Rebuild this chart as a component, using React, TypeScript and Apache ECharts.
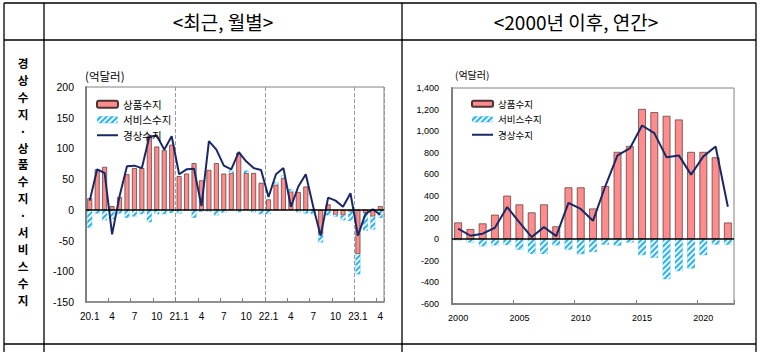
import React, { useEffect, useRef } from 'react';
import * as echarts from 'echarts';

// ---- monthly (억달러) ----
const monthLabels = [
  '20.1', '2', '3', '4', '5', '6', '7', '8', '9', '10', '11', '12',
  '21.1', '2', '3', '4', '5', '6', '7', '8', '9', '10', '11', '12',
  '22.1', '2', '3', '4', '5', '6', '7', '8', '9', '10', '11', '12',
  '23.1', '2', '3', '4',
];
const monthGoods = [
  19, 66, 70, 6, 21, 58, 68, 68, 121, 103, 97, 106,
  55, 59, 76, 48, 65, 76, 59, 60, 93, 60, 60, 44,
  17, 41, 52, 30, 29, 38, 1, -40, 9, -8, -9, -3,
  -72, -5, -11, 6,
];
const monthServices = [
  -29, -6, -17, -15, -6, -13, -11, -7, -20, -7, -7, -5,
  -6, -2, -13, -3, -3, -9, -5, 4, -4, 4, -4, -7,
  -7, 4, 4, 4, -4, -6, -7, -13, -9, -3, -8, -15,
  -33, -29, -21, -13,
];
const monthCurrent = [
  15, 66, 60, -40, 22, 71, 72, 68, 119, 121, 98, 120,
  58, 66, 67, 6, 112, 98, 72, 66, 94, 79, 68, 65,
  21, 58, 68, 5, 38, 58, 5, -42, 20, 15, 5, 27,
  -42, -7, 1, -8,
];

// ---- annual (억달러) ----
const years = [
  '2000', '2001', '2002', '2003', '2004', '2005', '2006', '2007', '2008', '2009', '2010', '2011',
  '2012', '2013', '2014', '2015', '2016', '2017', '2018', '2019', '2020', '2021', '2022',
];
const yearGoods = [
  155, 94, 146, 227, 403, 322, 248, 322, 119, 480, 480, 284,
  491, 808, 863, 1206, 1176, 1142, 1108, 808, 808, 758, 154,
];
const yearServices = [
  -10, -30, -66, -57, -54, -97, -137, -137, -57, -97, -139, -119,
  -51, -60, -31, -148, -172, -370, -296, -271, -148, -51, -51,
];
const yearCurrent = [
  97, 32, 51, 106, 298, 155, 20, 112, 28, 336, 280, 170,
  490, 776, 840, 1053, 982, 758, 776, 598, 767, 859, 300,
];

const legendNames = ['상품수지', '서비스수지', '경상수지'];
const sideTitle = ['경', '상', '수', '지', '·', '상', '품', '수', '지', '·', '서', '비', '스', '수', '지'];

const KR = "'Noto Sans CJK KR', 'Noto Sans', sans-serif";
const NUM = "'Liberation Sans', Arial, sans-serif";
const GOODS = '#ff8c8c';
const GOODS_BORDER = '#4d3333';
const SERV = '#2db3e6';
const LINE = '#1b2866';
const AXIS = '#808080';

const hatch = {
  symbol: 'rect',
  symbolSize: 1,
  color: 'rgba(255,255,255,0.9)',
  dashArrayX: [1, 0],
  dashArrayY: [2, 2],
  rotation: -Math.PI / 4,
};

const zeroLine = {
  silent: true,
  symbol: ['none', 'none'],
  label: { show: false },
  lineStyle: { color: '#000', width: 1.5, type: 'solid' },
  data: [{ yAxis: 0 }],
};

const legendData = [
  { name: legendNames[0] },
  { name: legendNames[1] },
  { name: legendNames[2], icon: 'path://M0,0 L21,0 L21,2 L0,2 Z' },
];

export default function App() {
  const ref = useRef<HTMLDivElement>(null);
  useEffect(() => {
    if (!ref.current) return;
    const chart = echarts.init(ref.current, null, { renderer: 'svg' });
    const border = (x1: number, y1: number, x2: number, y2: number) => ({
      type: 'line',
      shape: { x1, y1, x2, y2 },
      style: { stroke: '#000', lineWidth: 1.3 },
      silent: true,
    });
    const side = sideTitle.map((ch, i) => ({
      type: 'text',
      x: 23,
      y: 63 + i * 16.9,
      style: {
        text: ch,
        fontFamily: KR,
        fontSize: 11.6,
        fontWeight: 'bold',
        fill: '#000',
        align: 'center',
        verticalAlign: 'middle',
      },
    }));
    const option: any = {
      animation: false,
      backgroundColor: '#fff',
      grid: [
        { left: 86, top: 87, width: 298, height: 215, show: true, borderColor: AXIS, borderWidth: 1 },
        { left: 452, top: 88, width: 282, height: 216, show: true, borderColor: AXIS, borderWidth: 1 },
      ],
      legend: [
        {
          data: legendData,
          orient: 'vertical',
          left: 91,
          top: 94,
          itemWidth: 21,
          itemHeight: 7,
          itemGap: 5,
          textStyle: { fontFamily: KR, fontSize: 10.5, color: '#000' },
          selectedMode: false,
        },
        {
          data: legendData,
          orient: 'vertical',
          left: 466,
          top: 94,
          itemWidth: 21,
          itemHeight: 6,
          itemGap: 6,
          textStyle: { fontFamily: KR, fontSize: 9.5, color: '#000' },
          selectedMode: false,
        },
      ],
      xAxis: [
        {
          type: 'category',
          gridIndex: 0,
          data: monthLabels,
          boundaryGap: true,
          axisLine: { onZero: false, lineStyle: { color: AXIS, width: 1.5 } },
          axisTick: { show: true, interval: 2, inside: true, length: 4, lineStyle: { color: AXIS } },
          axisLabel: { interval: 2, fontFamily: NUM, fontSize: 10, color: '#000', margin: 9 },
          splitLine: {
            show: true,
            interval: (i: number) => i > 0 && i % 12 === 0,
            lineStyle: { type: 'dashed', color: '#9a9a9a', width: 1 },
          },
        },
        {
          type: 'category',
          gridIndex: 1,
          data: years,
          boundaryGap: true,
          axisLine: { onZero: false, lineStyle: { color: AXIS, width: 2 } },
          axisTick: { show: true, interval: 4, inside: true, length: 4, lineStyle: { color: AXIS } },
          axisLabel: { interval: 4, fontFamily: NUM, fontSize: 9, color: '#000', margin: 9 },
          splitLine: { show: false },
        },
      ],
      yAxis: [
        {
          type: 'value',
          gridIndex: 0,
          min: -150,
          max: 200,
          interval: 50,
          axisLine: { show: true, lineStyle: { color: AXIS, width: 2 } },
          axisTick: { show: false },
          splitLine: { show: false },
          axisLabel: { fontFamily: NUM, fontSize: 10.5, color: '#000', margin: 12 },
        },
        {
          type: 'value',
          gridIndex: 1,
          min: -600,
          max: 1400,
          interval: 200,
          axisLine: { show: true, lineStyle: { color: AXIS, width: 2 } },
          axisTick: { show: false },
          splitLine: { show: false },
          axisLabel: {
            fontFamily: NUM,
            fontSize: 9,
            color: '#000',
            margin: 13,
            formatter: (v: number) => v.toLocaleString('en-US'),
          },
        },
      ],
      series: [
        {
          name: legendNames[0],
          type: 'bar',
          xAxisIndex: 0,
          yAxisIndex: 0,
          stack: 'm',
          barWidth: '66%',
          itemStyle: { color: GOODS, borderColor: GOODS_BORDER, borderWidth: 0.7 },
          data: monthGoods,
        },
        {
          name: legendNames[1],
          type: 'bar',
          xAxisIndex: 0,
          yAxisIndex: 0,
          stack: 'm',
          barWidth: '66%',
          itemStyle: { color: SERV, decal: hatch },
          data: monthServices,
        },
        {
          name: legendNames[2],
          type: 'line',
          xAxisIndex: 0,
          yAxisIndex: 0,
          symbol: 'none',
          lineStyle: { color: LINE, width: 2 },
          itemStyle: { color: LINE },
          data: monthCurrent,
          markLine: zeroLine,
        },
        {
          name: legendNames[0],
          type: 'bar',
          xAxisIndex: 1,
          yAxisIndex: 1,
          stack: 'y',
          barWidth: '63%',
          itemStyle: { color: GOODS, borderColor: GOODS_BORDER, borderWidth: 0.7 },
          data: yearGoods,
        },
        {
          name: legendNames[1],
          type: 'bar',
          xAxisIndex: 1,
          yAxisIndex: 1,
          stack: 'y',
          barWidth: '63%',
          itemStyle: { color: SERV, decal: hatch },
          data: yearServices,
        },
        {
          name: legendNames[2],
          type: 'line',
          xAxisIndex: 1,
          yAxisIndex: 1,
          symbol: 'none',
          lineStyle: { color: LINE, width: 2 },
          itemStyle: { color: LINE },
          data: yearCurrent,
          markLine: zeroLine,
        },
      ],
      graphic: [
        border(4, 3, 756, 3),
        border(4, 40, 756, 40),
        border(4, 344, 756, 344),
        border(4, 3, 4, 352),
        border(44, 3, 44, 352),
        border(402, 3, 402, 352),
        border(756, 3, 756, 352),
        {
          type: 'text',
          x: 223,
          y: 21,
          style: {
            text: '<최근, 월별>',
            fontFamily: KR,
            fontSize: 19,
            fill: '#000',
            align: 'center',
            verticalAlign: 'middle',
          },
        },
        {
          type: 'text',
          x: 576,
          y: 21,
          style: {
            text: '<2000년 이후, 연간>',
            fontFamily: KR,
            fontSize: 19,
            fill: '#000',
            align: 'center',
            verticalAlign: 'middle',
          },
        },
        ...side,
        {
          type: 'text',
          x: 85,
          y: 76,
          style: { text: '(억달러)', fontFamily: KR, fontSize: 11.5, fill: '#000', verticalAlign: 'middle' },
        },
        {
          type: 'text',
          x: 455,
          y: 74,
          style: { text: '(억달러)', fontFamily: KR, fontSize: 10, fill: '#000', verticalAlign: 'middle' },
        },
      ],
    };
    chart.setOption(option);
    return () => chart.dispose();
  }, []);
  return (
    <div
      ref={ref}
      style={{ position: 'absolute', left: 0, top: 0, width: 765, height: 352, background: '#fff' }}
    />
  );
}
